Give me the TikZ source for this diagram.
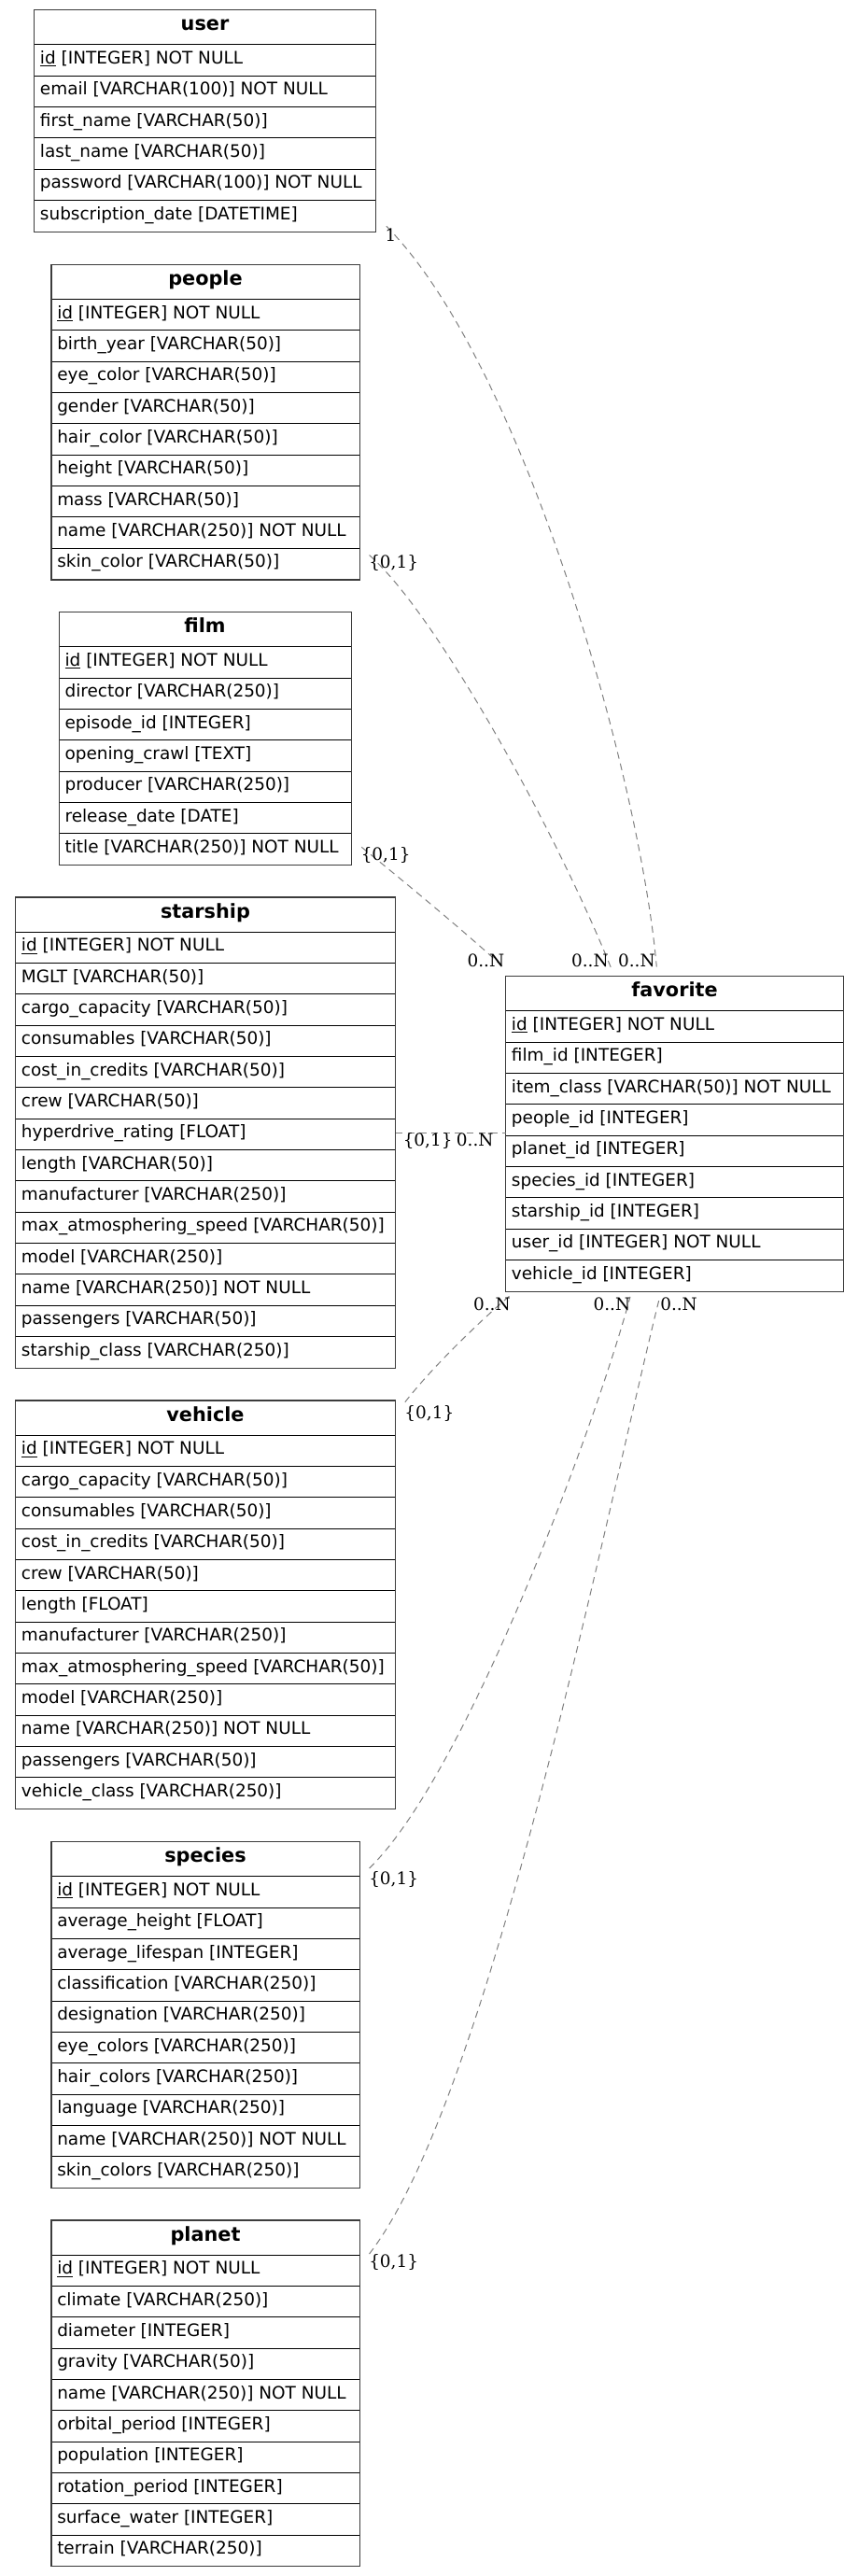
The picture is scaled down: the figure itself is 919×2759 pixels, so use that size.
\documentclass[tikz,border=0pt]{standalone}
\usepackage{fontspec}
\setmainfont{DejaVu Sans}
\newfontfamily\lblfont{DejaVu Serif}
\usetikzlibrary{calc}
\definecolor{relgray}{RGB}{128,128,128}
\definecolor{bordergray}{RGB}{60,60,60}
\tikzset{
  tabline/.style={line width=0.75pt, black},
  tabborder/.style={line width=0.9pt, bordergray},
  rowtext/.style={anchor=base west, inner sep=0pt, font=\fontsize{13.83}{16}\selectfont},
  headtext/.style={anchor=base, inner sep=0pt, font=\fontsize{15.6}{18}\selectfont\bfseries},
  card/.style={inner sep=0pt, font=\lblfont\fontsize{13.83}{16}\selectfont},
  rel/.style={dash pattern=on 5.5pt off 4pt, line width=0.75pt, relgray},
}
\newcommand\erdtable[7]{% name, left, top, width, nrows, title, rows
  \pgfmathsetmacro\tabH{37+#5*33.333}
  \node[draw=none, inner sep=0pt, anchor=north west, minimum width=#4*0.75pt, minimum height=\tabH*0.75pt] (#1) at (#2,#3) {};
  \node[headtext] (#1-title) at ({#2+#4/2},{#3+22}) {#6};
  \draw[tabline] ({#2},{#3+37}) -- ++(#4,0);
  \foreach \r [count=\i] in {#7} {
    \node[rowtext] (#1-\i) at ({#2+6},{#3+37+(\i-1)*33.333+20.7}) {\r};
    \ifnum\i<#5 \draw[tabline] ({#2},{#3+37+\i*33.333}) -- ++(#4,0);\fi
  }
  \draw[tabborder] (#1.north west) rectangle (#1.south east);
}
\begin{document}
\begin{tikzpicture}[x=0.75pt, y=-0.75pt]
\path[fill=white] (0,0) rectangle (919,2759);
\useasboundingbox (0,0) rectangle (919,2759);

\erdtable{user}{36.7}{10.7}{365.6}{6}{user}{%
  {\underline{id} [INTEGER] NOT NULL},
  {email [VARCHAR(100)] NOT NULL},
  {first\_name [VARCHAR(50)]},
  {last\_name [VARCHAR(50)]},
  {password [VARCHAR(100)] NOT NULL},
  {subscription\_date [DATETIME]}}

\erdtable{people}{55}{283.5}{330}{9}{people}{%
  {\underline{id} [INTEGER] NOT NULL},
  {birth\_year [VARCHAR(50)]},
  {eye\_color [VARCHAR(50)]},
  {gender [VARCHAR(50)]},
  {hair\_color [VARCHAR(50)]},
  {height [VARCHAR(50)]},
  {mass [VARCHAR(50)]},
  {name [VARCHAR(250)] NOT NULL},
  {skin\_color [VARCHAR(50)]}}

\erdtable{film}{63.3}{655.7}{312.4}{7}{film}{%
  {\underline{id} [INTEGER] NOT NULL},
  {director [VARCHAR(250)]},
  {episode\_id [INTEGER]},
  {opening\_crawl [TEXT]},
  {producer [VARCHAR(250)]},
  {release\_date [DATE]},
  {title [VARCHAR(250)] NOT NULL}}

\erdtable{starship}{16.7}{961}{406.6}{14}{starship}{%
  {\underline{id} [INTEGER] NOT NULL},
  {MGLT [VARCHAR(50)]},
  {cargo\_capacity [VARCHAR(50)]},
  {consumables [VARCHAR(50)]},
  {cost\_in\_credits [VARCHAR(50)]},
  {crew [VARCHAR(50)]},
  {hyperdrive\_rating [FLOAT]},
  {length [VARCHAR(50)]},
  {manufacturer [VARCHAR(250)]},
  {max\_atmosphering\_speed [VARCHAR(50)]},
  {model [VARCHAR(250)]},
  {name [VARCHAR(250)] NOT NULL},
  {passengers [VARCHAR(50)]},
  {starship\_class [VARCHAR(250)]}}

\erdtable{favorite}{541.7}{1045.7}{361.6}{9}{favorite}{%
  {\underline{id} [INTEGER] NOT NULL},
  {film\_id [INTEGER]},
  {item\_class [VARCHAR(50)] NOT NULL},
  {people\_id [INTEGER]},
  {planet\_id [INTEGER]},
  {species\_id [INTEGER]},
  {starship\_id [INTEGER]},
  {user\_id [INTEGER] NOT NULL},
  {vehicle\_id [INTEGER]}}

\erdtable{vehicle}{16.7}{1500}{406.6}{12}{vehicle}{%
  {\underline{id} [INTEGER] NOT NULL},
  {cargo\_capacity [VARCHAR(50)]},
  {consumables [VARCHAR(50)]},
  {cost\_in\_credits [VARCHAR(50)]},
  {crew [VARCHAR(50)]},
  {length [FLOAT]},
  {manufacturer [VARCHAR(250)]},
  {max\_atmosphering\_speed [VARCHAR(50)]},
  {model [VARCHAR(250)]},
  {name [VARCHAR(250)] NOT NULL},
  {passengers [VARCHAR(50)]},
  {vehicle\_class [VARCHAR(250)]}}

\erdtable{species}{55}{1972.7}{330}{10}{species}{%
  {\underline{id} [INTEGER] NOT NULL},
  {average\_height [FLOAT]},
  {average\_lifespan [INTEGER]},
  {classification [VARCHAR(250)]},
  {designation [VARCHAR(250)]},
  {eye\_colors [VARCHAR(250)]},
  {hair\_colors [VARCHAR(250)]},
  {language [VARCHAR(250)]},
  {name [VARCHAR(250)] NOT NULL},
  {skin\_colors [VARCHAR(250)]}}

\erdtable{planet}{55}{2378}{330}{10}{planet}{%
  {\underline{id} [INTEGER] NOT NULL},
  {climate [VARCHAR(250)]},
  {diameter [INTEGER]},
  {gravity [VARCHAR(50)]},
  {name [VARCHAR(250)] NOT NULL},
  {orbital\_period [INTEGER]},
  {population [INTEGER]},
  {rotation\_period [INTEGER]},
  {surface\_water [INTEGER]},
  {terrain [VARCHAR(250)]}}

% connector end points, relative to the tables
\coordinate (uS) at ($(user.south east)+(11,-6)$);
\coordinate (pS) at ($(people.south east)+(10,-26.5)$);
\coordinate (fS) at ($(film.south east)+(11,-19.3)$);
\coordinate (vS) at ($(vehicle.north east)+(10,1.7)$);
\coordinate (sS) at ($(species.north east)+(10,28.3)$);
\coordinate (plS) at ($(planet.north east)+(10,36)$);
\coordinate (favF) at ($(favorite.north west)+(-2.4,-9.7)$);
\coordinate (favP) at ($(favorite.north west)+(113.3,-7.7)$);
\coordinate (favU) at ($(favorite.north west)+(161.6,-10.2)$);
\coordinate (favV) at ($(favorite.south west)+(5,4)$);
\coordinate (favS) at ($(favorite.south west)+(133.3,5.6)$);
\coordinate (favPl) at ($(favorite.south west)+(165,5.6)$);

\draw[rel] (uS) .. controls (560,390) and (685,830) .. (favU);
\draw[rel] (pS) .. controls (470,660) and (600,900) .. (favP);
\draw[rel] (fS) .. controls (440,950) and (500,1000) .. (favF);
\draw[rel] (starship.east) -- (starship.east -| favorite.west);
\draw[rel] (vS) .. controls (463,1464) and (516.7,1412.5) .. (favV);
\draw[rel] (sS) .. controls (500,1900) and (640,1520) .. (favS);
\draw[rel] (plS) .. controls (525,2247.6) and (651.7,1608.3) .. (favPl);

% cardinalities
\node[card, anchor=base] (c-user) at (418.5,258.3) {1};
\node[card, anchor=base west] (c-people) at (395,608.5) {\{0,1\}};
\node[card, anchor=base west] (c-film) at (386.5,921.7) {\{0,1\}};
\node[card, anchor=base west] (c-starship) at (431.5,1227.3) {\{0,1\}};
\node[card, anchor=base west] (c-fav-st) at (488.7,1227.3) {0..N};
\node[card, anchor=base west] (c-vehicle) at (433.2,1519) {\{0,1\}};
\node[card, anchor=base west] (c-species) at (395,2018) {\{0,1\}};
\node[card, anchor=base west] (c-planet) at (395,2428) {\{0,1\}};
\node[card, anchor=base east] (c-fav-f) at (540.5,1035) {0..N};
\node[card, anchor=base east] (c-fav-p) at (652,1035) {0..N};
\node[card, anchor=base east] (c-fav-u) at (702,1035) {0..N};
\node[card, anchor=base east] (c-fav-v) at (547,1403.3) {0..N};
\node[card, anchor=base east] (c-fav-s) at (675.5,1403.3) {0..N};
\node[card, anchor=base west] (c-fav-pl) at (707,1403.3) {0..N};
\end{tikzpicture}
\end{document}
